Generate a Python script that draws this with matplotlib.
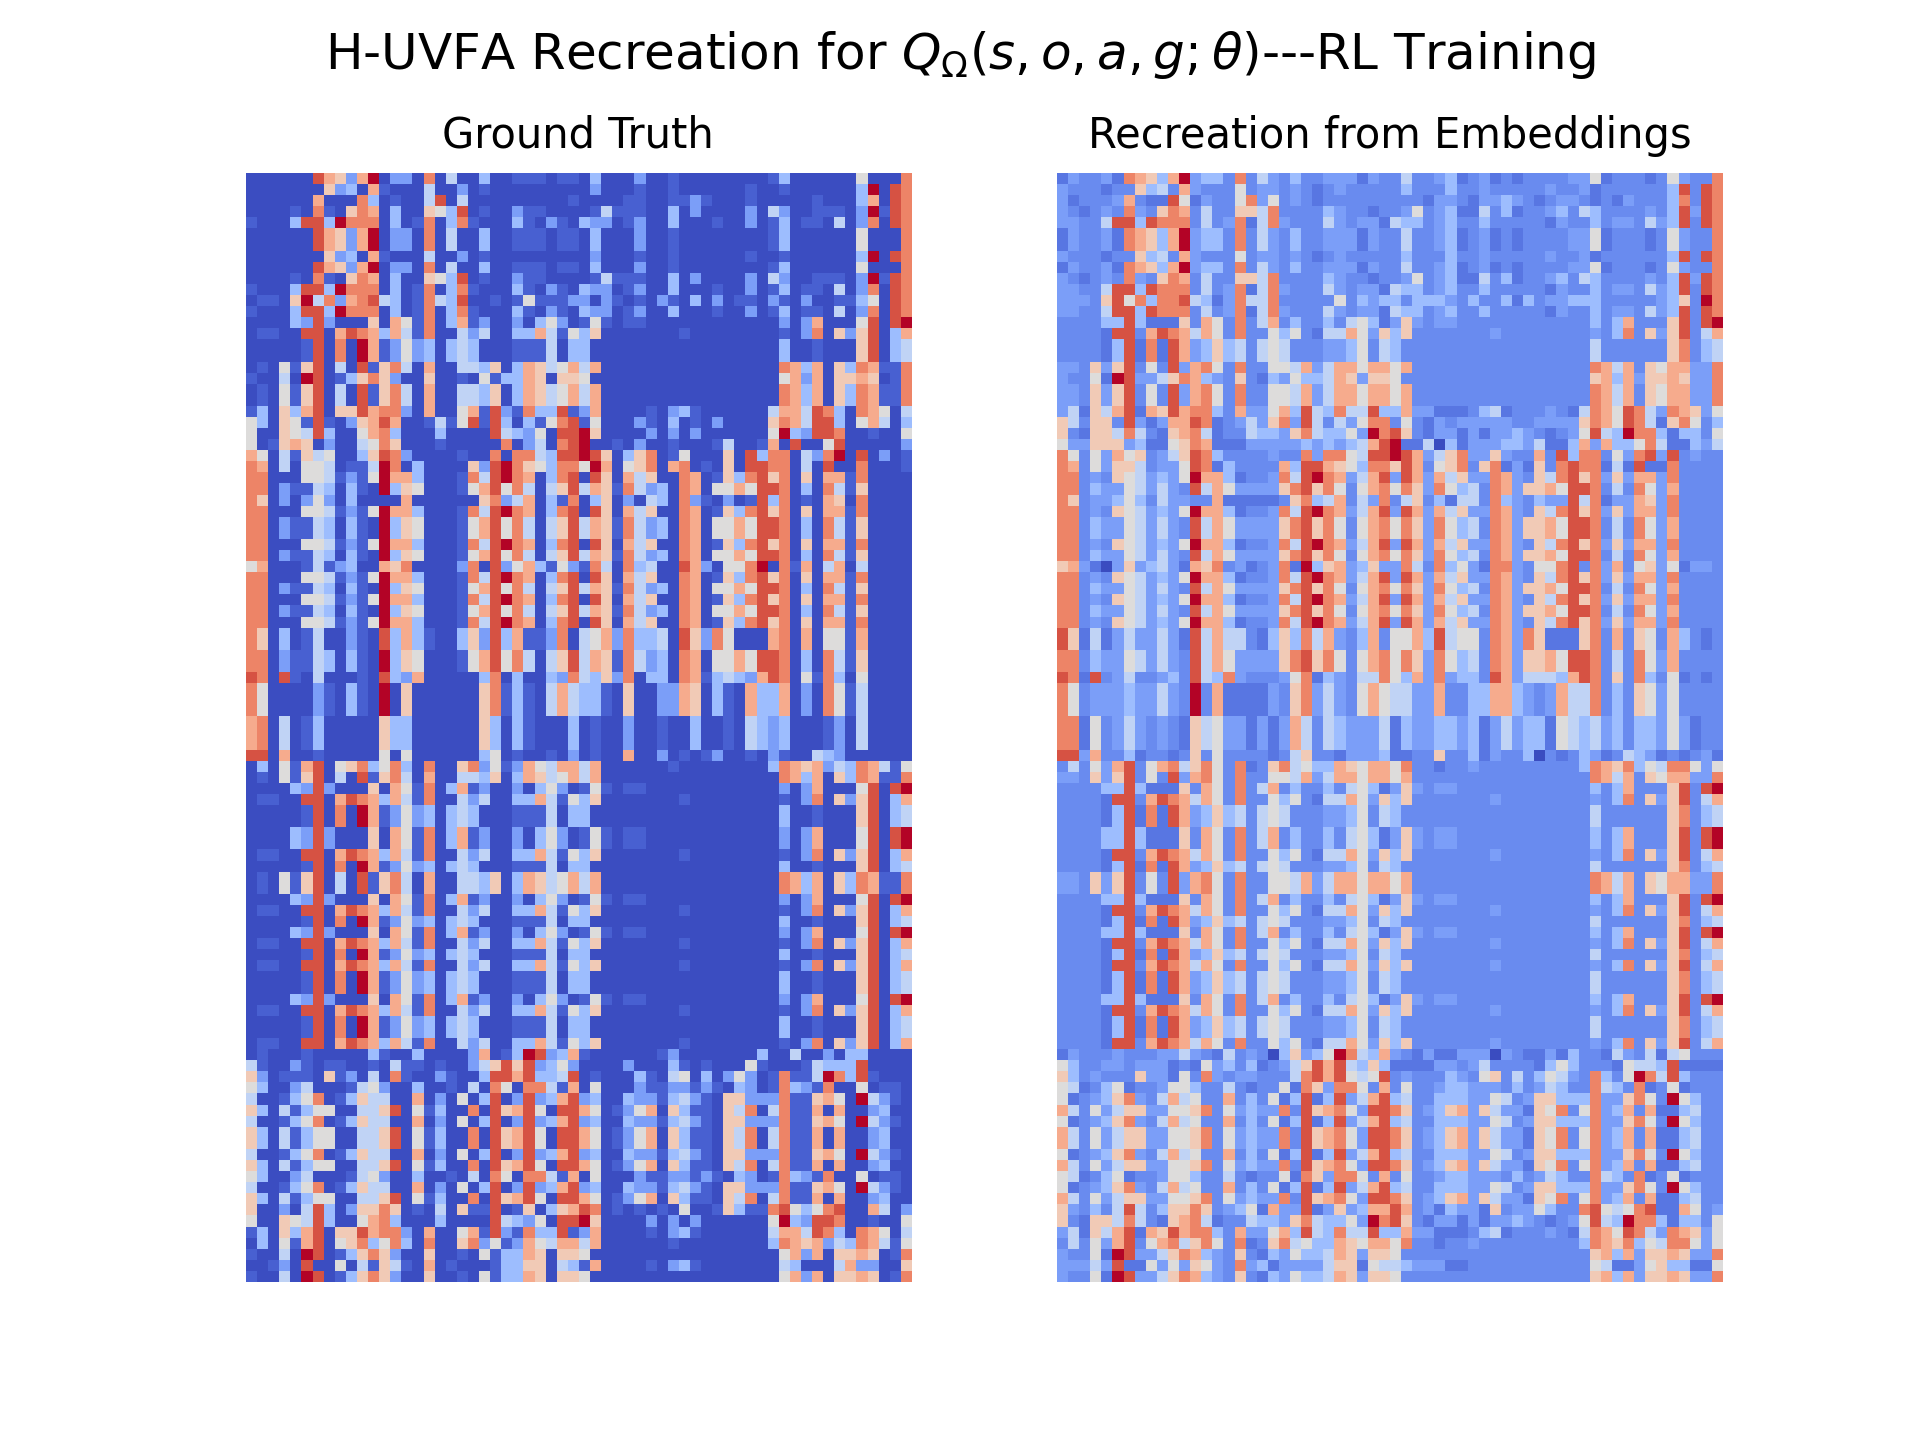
import numpy as np
import matplotlib
matplotlib.use('Agg')
import matplotlib.pyplot as plt

## one character per cell, grouped in tens for reading
truth_levels = {'0': 0.005, '1': 0.05, '2': 0.2, '3': 0.3, '4': 0.4, '5': 0.5, '6': 0.6,
                '7': 0.7, '8': 0.8, '9': 0.9, 'a': 1.0}
recreation_levels = {'0': 0.0, '1': 0.1, '2': 0.2, '3': 0.3, '4': 0.4, '5': 0.5, '6': 0.6,
                     '7': 0.7, '8': 0.8, '9': 0.9, 'a': 1.0, 'b': 0.15}

## the matrices repeat whole rows, so each distinct row is kept once
truth_rows = {
    'A': '0000009762 7a02208040 0300111011 0300020010 0000000130 0000050008',
    'B': '0000000623 0710004002 0100000000 0200010010 0000010010 000003a098',
    'C': '0000007000 8301004904 0000000001 0000110011 2100010000 0100037098',
    'D': '0000108106 8703006539 0100211000 0141110030 2000020420 011102a198',
    'E': '10003993a8 8803018038 1000310210 3220120030 0010020130 1104028098',
    'F': '01106a4827 8943018439 0010151112 2021010210 3020110210 2001135098',
    'G': '0000329200 0607518037 1200203520 1510110000 0000000020 270005909a',
    'H': '0110099079 8737418004 2400337415 3600000001 0000000010 2806269037',
    'I': '0000019080 a712523034 3000111403 3000000000 0000000030 0100069034',
    'J': '0105169040 9168407004 4360376457 4700000000 0000000087 3706387118',
    'K': '10040a9013 6862006001 0513376066 5000000000 0000000057 2706676018',
    'M': '1306379066 9788207005 7192183391 2700001023 1000000477 4983087504',
    'N': '5306519102 6797001415 9193031589 1500021030 1020000687 4993057403',
    'O': '5006549300 5783000300 0094325099 a600002020 20000005a3 2998001005',
    'P': '5016760200 4586000100 0008024089 a001020010 0014001709 0059000002',
    'Q': '7504164500 3698200001 0080884399 a960368015 0006093880 428a090201',
    'Q2': '8704055401 14a8030000 629a865388 5a70568078 0106099880 4090080001',
    'R': '8800055412 15a7730001 849a870389 0960746008 7016389680 6077180000',
    'S': '8802114303 10a3650001 5795840469 4761842308 7055759980 3084160000',
    'T': '8602025203 0000700000 0682470318 0360204308 2102019380 1076080000',
    'U': '5700014123 0076800002 8092573152 1840834009 720558a081 7047040000',
    'V': '8603014002 1093731003 6293711280 4572833409 6285000780 7055170000',
    'W': '9809104000 1093270000 0380300328 4362803308 7134327980 5183050000',
    'X': '8500002103 10a0600000 0681310474 3310600227 6031073370 2085140000',
    'Y': '7804013000 0063300000 0630310003 0100200100 3001043230 0012040000',
    'Z': '9907001000 0050500000 0350100102 0100700201 0120010210 0432000000',
    'AA': '0305179056 8358308006 8251275477 4700000010 0000000387 6724387415',
    'r79': '0100010000 0310030000 27013a9237 1000000120 0000003004 0020330000',
    'r80': '4100210110 0104110100 2469692352 0000200031 0100051000 1433390000',
    'r81': '6201110612 0408100210 0399793349 0100031045 0302520181 14a8391000',
    'r82': '5300240001 4520030010 4085088417 0500021122 1210320183 2180050110',
    'r83': '4001358013 6440070205 0390292379 2300322134 2106622281 16750a4210',
    'r84': '6304135500 4469051300 8096795099 7501257063 1106480481 1707002300',
    'r93': '6002049302 6686010406 1190160367 9801010105 0016311895 3589007402',
    'r98': '0012090050 4164107010 0013366043 1700001023 1000000043 0004722006',
}

recreation_rows = {
    'A': '12bb218763 7a233b8b42 b3bb22212b b4bb231b21 b1bbbb2251 bbb1b52bb8',
    'B': '2bbb1bb634 b72bbb5b22 b2b1b2bbbb b3bbb3bb2b bbbb2bb21b bbbbb39b98',
    'C': '21bbb27b11 9512bb5825 b2b1bbbbbb bbb122b122 32b1b22b1b 12bbb38b98',
    'D': '2b1b2b82b6 87b4bb6648 bbbb32bb1b b25b23114b 31bb23b43b bbb2b39298',
    'E': '22bb499398 88b4b28148 2bbb42b221 433b23bb3b bbbb12bb3b 22b4239b98',
    'F': '222b695838 8943128448 bbbbb5b323 3b3332b3bb 313b22333b bbbb236ba8',
    'G': 'bbbb339311 16b75b8b47 b3bb3b4531 262b22bbbb bbbbbbbb3b 37bbb69b9a',
    'H': 'bbbb199b79 87475b8bb5 35b1447526 36bbbbbbb2 bbbbbbbb2b 38b6269b47',
    'I': 'bbbb139181 9723634b45 4bbb2235b4 3bbbbbbbbb bbbbbbbb4b bbbbb68b34',
    'J': '22b6269b5b 92785b8bb5 5472477577 57bbbbbbbb bbbbbbbb87 47b6577228',
    'K': '2bb51a9224 68732b6b13 2533476266 5bbbbbbbbb bbbbbbbb67 3726676228',
    'M': '2416479176 97883b7225 7394384493 3722111b34 1bbb2b1487 5984287625',
    'N': '64b66b9212 77981b2426 8294b42588 b5b12b2222 2bb2222687 59841685b3',
    'O': '6b166484b1 67841bb433 26843352a8 96b1221212 232b1b2594 3a883133b5',
    'P': '5226662311 5687111222 2232323479 a114031222 3324113727 3358411324',
    'Q': '85b52756b2 46983bbbb2 bb82885499 a972468226 2bb7b9388b 528929b2bb',
    'Q2': '87b52664b2 259813bbbb 7399765388 697b568b68 1216b89881 419118bbbb',
    'R': '88b2b65423 25a7731bb2 849a872479 2972746228 72b6489682 627728bbbb',
    'S': '88b3225424 2b94752222 689685b578 58628534b8 726675998b 4b8527bbbb',
    'T': '86b22353b4 22bb711111 b68347b428 b46b3144b8 32b3229481 227628bbbb',
    'U': '6721026234 21768b21b2 81a3672362 284b835218 82b5589b82 7b5625122b',
    'V': '9614124224 2194744b13 638472b37b 55739455b8 728611168b 7b65b73b1b',
    'W': '9819b24bb2 3b94382bbb 258132b448 53728233b9 724443798b 6b83b51b1b',
    'X': '85b2223224 2bab711112 b68242b575 44227bb337 732b27448b 3b6525bbbb',
    'Y': '8815b242b2 b164522121 274b432224 1322332312 4233154342 3b332521bb',
    'Z': '9927bb31bb 1b6b5bbbb1 b46bb12223 11bb6bb312 bb30b1b321 b4321b1b21',
    'AA': 'b4b5279b57 84685b81b6 8453376577 58bb1bb2bb bbbbbbb387 6835488525',
    'r79': '12bbb2bbb2 242b14b2b0 36235a8437 2b12112220 2b11213bb1 42b4145bbb',
    'r80': '53bb22b222 1b1523b31b 2469794363 111122b24b bbb1353bbb 1544391111',
    'r81': '63b2bbb622 15b82b22bb b489795459 b2bbb32b56 b4b3542b83 b5a8493bbb',
    'r82': '541b351bb2 553bb4b1bb 51862885b7 b5bb233222 b3b243bb84 3b81b51bbb',
    'r83': '51b23682b4 745bb7b3b5 1391392479 34bb333225 4b26633382 2685ba53bb',
    'r84': '74b5246622 5568b52322 8b96785299 86b2367264 221658b582 37b71134bb',
    'r93': '62b3b494b3 6686b23517 2291262377 97b2132216 b2253bb895 45891175b2',
    'r98': '2224291152 52652b8231 2222466154 4322211bbb bbbbbbbb54 1125633115',
}

row_order = ['A', 'B', 'C', 'D', 'E', 'A', 'A', 'B', 'A', 'D',
             'E', 'F', 'E', 'G', 'H', 'I', 'I', 'J', 'K', 'J',
             'J', 'M', 'N', 'O', 'P', 'Q', 'Q2', 'R', 'S', 'T',
             'R', 'S', 'S', 'R', 'S', 'U', 'R', 'S', 'R', 'S',
             'R', 'V', 'V', 'S', 'S', 'W', 'X', 'X', 'X', 'Y',
             'Y', 'Y', 'Z', 'AA', 'J', 'G', 'H', 'I', 'I', 'G',
             'G', 'H', 'I', 'J', 'J', 'G', 'H', 'I', 'G', 'H',
             'I', 'H', 'I', 'I', 'G', 'H', 'I', 'I', 'H', 'r79',
             'r80', 'r81', 'r82', 'r83', 'r84', 'r83', 'r84', 'r84', 'r83', 'r84',
             'r82', 'r83', 'r84', 'r93', 'O', 'M', 'AA', 'K', 'r98', 'K']


def build_matrix(rows, levels):
    return np.array([[levels[c] for c in rows[name].replace(' ', '')] for name in row_order])


ground_truth = build_matrix(truth_rows, truth_levels)
recreation = build_matrix(recreation_rows, recreation_levels)

fig, (ax1, ax2) = plt.subplots(1, 2, figsize=(8, 6), dpi=240)
ax1.imshow(ground_truth, cmap='coolwarm', vmin=0, vmax=1, interpolation='nearest')
ax1.set_title('Ground Truth', fontsize=12.5, pad=7.5)
ax1.axis('off')
ax2.imshow(recreation, cmap='coolwarm', vmin=0, vmax=1, interpolation='nearest')
ax2.set_title('Recreation from Embeddings', fontsize=12.5, pad=7.5)
ax2.axis('off')
fig.suptitle(r'H-UVFA Recreation for $Q_{\Omega}(s,o,a,g;\theta)$---RL Training', fontsize=15)
fig.savefig('out.png')
